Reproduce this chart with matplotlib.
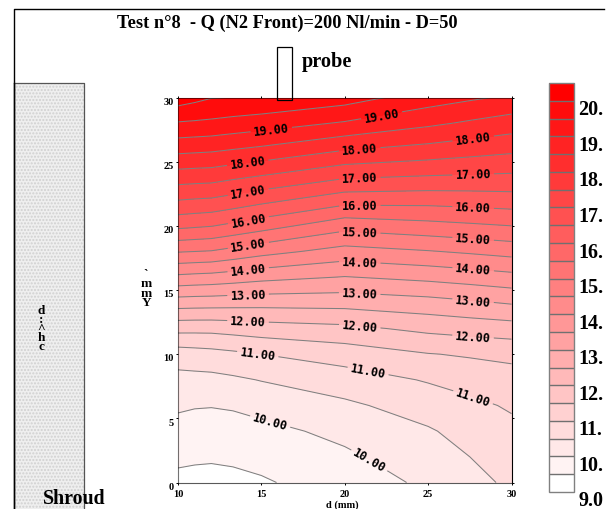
"""Contour map of Test 8 with probe and shroud sketch"""
import numpy as np
import matplotlib
matplotlib.use('Agg')
import matplotlib.pyplot as plt
from matplotlib.patches import Rectangle
from matplotlib.transforms import ScaledTranslation

W, H = 615, 510
SERIF = 'Liberation Serif'

d_mm = [10, 11, 12, 13.3, 15, 20, 25, 27.5, 30]
y_mm = [0, 2, 4, 6, 8, 10, 12, 14, 16, 18, 20, 22, 24, 26, 28, 30]

col_10 = [9.37, 9.60, 9.83, 10.07, 10.34, 10.75, 11.66, 12.74, 13.89, 15.03, 16.12, 17.00, 17.83, 18.66, 19.46, 20.26]
col_11 = [9.35, 9.57, 9.80, 10.03, 10.35, 10.79, 11.65, 12.72, 13.85, 15.00, 16.07, 16.96, 17.80, 18.63, 19.43, 20.14]
col_12 = [9.33, 9.56, 9.78, 10.02, 10.36, 10.83, 11.65, 12.71, 13.82, 14.97, 16.02, 16.93, 17.78, 18.60, 19.40, 20.02]
col_13 = [9.36, 9.59, 9.81, 10.05, 10.42, 10.90, 11.70, 12.69, 13.75, 14.84, 15.89, 16.81, 17.67, 18.52, 19.33, 19.99]
col_15 = [9.44, 9.66, 9.87, 10.15, 10.52, 11.00, 11.77, 12.67, 13.65, 14.67, 15.71, 16.64, 17.54, 18.42, 19.24, 19.97]
col_20 = [9.77, 9.92, 10.12, 10.41, 10.76, 11.23, 11.88, 12.68, 13.48, 14.31, 15.18, 16.20, 17.15, 18.05, 18.95, 19.73]
col_25 = [10.08, 10.26, 10.45, 10.72, 11.04, 11.48, 12.12, 12.81, 13.63, 14.47, 15.34, 16.18, 17.04, 17.85, 18.60, 19.25]
col_27 = [10.33, 10.50, 10.67, 10.88, 11.20, 11.55, 12.20, 12.92, 13.73, 14.57, 15.42, 16.22, 17.00, 17.73, 18.43, 19.08]
col_30 = [10.60, 10.75, 10.87, 11.06, 11.30, 11.62, 12.27, 13.04, 13.84, 14.68, 15.50, 16.27, 16.97, 17.62, 18.27, 18.92]

levels = [9.0 + 0.5*i for i in range(24)]
label_levels = [10, 11, 12, 13, 14, 15, 16, 17, 18, 19]
cbar_ticks = [9, 10, 11, 12, 13, 14, 15, 16, 17, 18, 19, 20]
cbar_labels = ['9.0', '10.', '11.', '12.', '13.', '14.', '15.', '16.', '17.', '18.', '19.', '20.']
title = 'Test n°8  - Q (N2 Front)=200 Nl/min - D=50'

# where the value labels sit on the lines
label_pos = [(15.6, 27.4), (22.2, 28.7),
             (14.2, 24.7), (20.9, 25.9), (27.7, 26.8),
             (14.2, 22.7), (20.9, 23.7), (27.7, 24.0),
             (14.2, 20.6), (20.9, 21.6), (27.7, 21.5),
             (14.2, 18.65), (20.9, 19.6), (27.7, 19.0),
             (14.2, 16.7), (20.9, 17.2), (27.7, 16.6),
             (14.2, 14.7), (20.9, 14.85), (27.7, 14.2),
             (14.2, 12.6), (20.9, 12.2), (27.7, 11.5),
             (14.8, 10.2), (21.4, 8.7), (27.75, 6.85),
             (15.6, 5.1), (21.6, 2.0)]

Z = np.array([col_10, col_11, col_12, col_13, col_15, col_20, col_25, col_27, col_30]).T
colors = [(1, 1 - i/22, 1 - i/22) for i in range(23)]

fig = plt.figure(figsize=(W/100, H/100), dpi=100)
ax = fig.add_axes([178/W, 1 - 483.5/H, 333.5/W, 385/H])

cf = ax.contourf(d_mm, y_mm, Z, levels=levels, colors=colors)
other_levels = [v for v in levels[1:-1] if v not in label_levels]
ax.contour(d_mm, y_mm, Z, levels=other_levels, colors='#808080', linewidths=0.75)
cs = ax.contour(d_mm, y_mm, Z, levels=label_levels, colors='#808080', linewidths=0.75)

plt.rcParams['font.family'] = 'DejaVu Sans Mono'
plt.rcParams['font.weight'] = 'bold'
lab = ax.clabel(cs, fmt='%.2f', fontsize=8.5, colors='black', manual=label_pos,
                inline=True, inline_spacing=3)
plt.rcParams['font.weight'] = 'normal'

ax.set_xlim(10, 30)
ax.set_ylim(0, 30)
ax.set_xticks([10, 15, 20, 25, 30])
ax.set_yticks([0, 5, 10, 15, 20, 25, 30])
ax.tick_params(top=True, right=True, length=1.5, width=0.7, pad=1.5, labelsize=7.5)
for t in ax.get_xticklabels() + ax.get_yticklabels():
    t.set_family(SERIF)
    t.set_weight('bold')
for t in ax.get_yticklabels():
    t.set_transform(t.get_transform() + ScaledTranslation(0, -2/72, fig.dpi_scale_trans))
for t in ax.get_xticklabels():
    t.set_transform(t.get_transform() + ScaledTranslation(0, -2/72, fig.dpi_scale_trans))
ax.spines['left'].set_color((0, 0, 0, 0.55))
ax.spines['bottom'].set_color((0, 0, 0, 0.65))
ax.spines['top'].set_color((0, 0, 0, 0.55))
ax.spines['right'].set_color('black')

# colour scale on the right
cax = fig.add_axes([549/W, 1 - 493/H, 25/W, 409/H])
cb = fig.colorbar(cf, cax=cax, drawedges=True)
cb.dividers.set_color('#707070')
cb.dividers.set_linewidth(1.0)
cb.outline.set_edgecolor('#808080')
cb.outline.set_linewidth(1.0)
cb.set_ticks(cbar_ticks, labels=cbar_labels)
cax.tick_params(length=0, pad=3, labelsize=14.5)
for t in cax.get_yticklabels():
    t.set_family(SERIF)
    t.set_weight('bold')
    t.set_transform(t.get_transform() + ScaledTranslation(0, -6/100, fig.dpi_scale_trans))

# sketch parts, drawn in pixel coordinates
ov = fig.add_axes([0, 0, 1, 1], facecolor='none')
ov.set_xlim(0, W)
ov.set_ylim(H, 0)
ov.axis('off')
ov.plot([604, 13.5, 13.5], [9.5, 9.5, 510], color='black', lw=1.0)
ov.add_patch(Rectangle((13.5, 84), 70, 430, facecolor='#efefef', edgecolor='#d0d0d0',
                       hatch='.....', lw=0))
ov.plot([13.5, 83.5, 83.5], [84, 84, 510], color='#555555', lw=0.9)
ov.plot([13.5, 13.5], [84, 510], color='black', lw=1.0)
ov.add_patch(Rectangle((276.5, 48), 15, 52.5, facecolor='none', edgecolor='black', lw=0.9))

ov.text(287, 23, title, family=SERIF, weight='bold', fontsize=13.2, ha='center', va='center')
ov.text(302, 62, 'probe', family=SERIF, weight='bold', fontsize=14.6, ha='left', va='center')
ov.text(43, 499, 'Shroud', family=SERIF, weight='bold', fontsize=14.3, ha='left', va='center')
ov.text(342, 505, 'd (mm)', family=SERIF, weight='bold', fontsize=7.5, ha='center', va='center')
ov.text(146, 289, '`\nm\nm\nY', family=SERIF, weight='bold', fontsize=9.5, ha='center', va='center',
        linespacing=0.7)
ov.text(41, 329, 'd\n:\n^\nh\nc', family=SERIF, weight='bold', fontsize=9.5, ha='center', va='center',
        linespacing=0.65)

fig.savefig('out.png', dpi=100)
